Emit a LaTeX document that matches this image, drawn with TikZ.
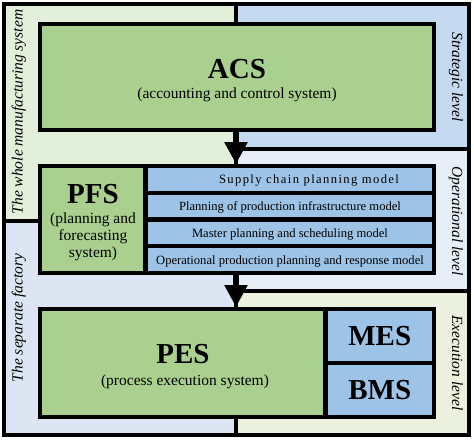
\documentclass[tikz,border=0pt]{standalone}
\usepackage{fontspec}
\setmainfont{Liberation Serif}
\usetikzlibrary{arrows.meta}
\definecolor{boxgreen}{HTML}{A9D08E}
\definecolor{boxblue}{HTML}{9DC3E6}
\definecolor{wholebg}{HTML}{E2EFDA}
\definecolor{factbg}{HTML}{DCE6F2}
\definecolor{stratbg}{HTML}{C5D9F1}
\definecolor{operbg}{HTML}{E7EEF8}
\definecolor{execbg}{HTML}{EBF1DE}
\newcommand\fBig{\fontsize{29}{32}\selectfont\bfseries}
\newcommand\fSub{\fontsize{15.5}{17}\selectfont}
\newcommand\fMod{\fontsize{12.6}{14}\selectfont}
\newcommand\fSide{\fontsize{15.5}{17}\selectfont\itshape}
\begin{document}
\begin{tikzpicture}[x=1pt,y=-1pt,
  region/.style={draw=black,line width=4pt},
  gbox/.style={draw=black,line width=4pt,fill=boxgreen,inner sep=0pt},
  bbox/.style={draw=black,line width=4pt,fill=boxblue,inner sep=0pt},
  modrow/.style={bbox,minimum width=288pt,minimum height=26.75pt,font=\fMod,text height=10pt,text depth=1pt},
  bigtxt/.style={anchor=base,font=\fBig,inner sep=0pt},
  subtxt/.style={anchor=base,font=\fSub,inner sep=0pt},
  sidelab/.style={anchor=base,font=\fSide,inner sep=0pt},
  flow/.style={line width=6pt,-{Triangle[width=22pt,length=22pt]}}
]
\useasboundingbox (0,0) rectangle (474,440);
% regions
\path[region,fill=wholebg] (4,4) rectangle (236,221);
\path[region,fill=factbg] (4,221) rectangle (236,435);
\path[region,fill=stratbg] (236,4) rectangle (469,149);
\path[region,fill=operbg] (236,149) rectangle (469,290.5);
\path[region,fill=execbg] (236,290.5) rectangle (469,435);
% side labels
\node[sidelab,rotate=90] (lwhole) at (22.5,112) {The whole manufacturing system};
\node[sidelab,rotate=90] (lfact) at (22.5,318) {The separate factory};
\node[sidelab,rotate=-90] (lstrat) at (452,77) {Strategic level};
\node[sidelab,rotate=-90] (loper) at (452,221) {Operational level};
\node[sidelab,rotate=-90] (lexec) at (452,363) {Execution level};
% ACS
\node[gbox,minimum width=394pt,minimum height=106pt] (acs) at (237,77) {};
\node[bigtxt] (acst) at (237,78) {ACS};
\node[subtxt] (acss) at (237,98) {(accounting and control system)};
% PFS
\node[gbox,minimum width=105pt,minimum height=107pt] (pfs) at (92.5,219.5) {};
\node[bigtxt] (pfst) at (93,203) {PFS};
\node[subtxt] (pfs1) at (93,223.8) {(planning and};
\node[subtxt] (pfs2) at (93,240.5) {forecasting};
\node[subtxt] (pfs3) at (93,257) {system)};
\node[modrow] (row1) at (290,179.4) {\hspace*{38pt}\addfontfeature{LetterSpace=11}Supply chain planning model};
\node[modrow] (row2) at (290,206.1) {Planning of production infrastructure model};
\node[modrow] (row3) at (290,232.9) {Master planning and scheduling model};
\node[modrow] (row4) at (290,259.6) {Operational production planning and response model};
% PES
\node[gbox,minimum width=285pt,minimum height=108pt] (pes) at (182.5,363) {};
\node[bigtxt] (pest) at (183,363) {PES};
\node[subtxt] (pess) at (185,385) {(process execution system)};
\node[bbox,minimum width=108.5pt,minimum height=54pt,font=\fBig] (mes) at (379.75,336) {MES};
\node[bbox,minimum width=108.5pt,minimum height=54pt,font=\fBig] (bms) at (379.75,390) {BMS};
% arrows
\draw[flow] (acs.south -| 236,0) -- (236,0 |- row1.north);
\draw[flow] (236,0 |- row4.south) -- (236,0 |- pes.north);
\end{tikzpicture}
\end{document}
